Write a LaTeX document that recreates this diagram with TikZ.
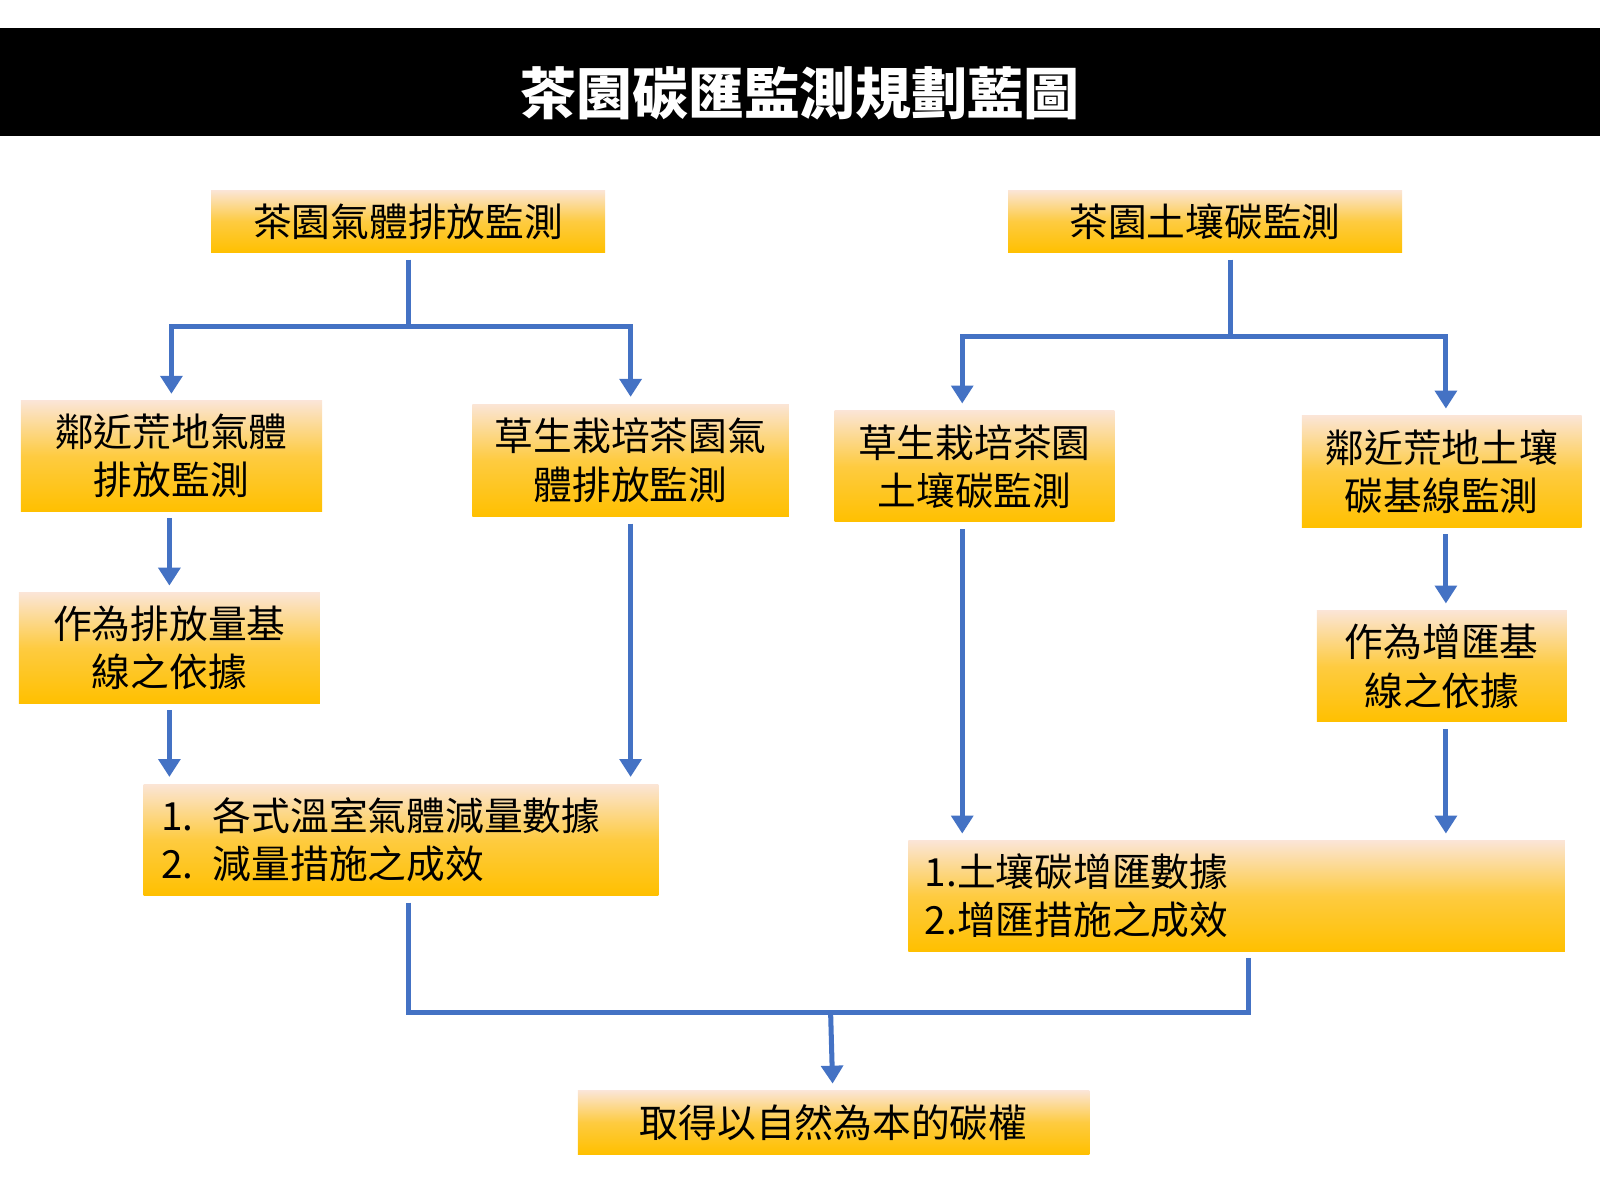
\documentclass[tikz,border=0pt]{standalone}
\usepackage{fontspec}
\setmainfont{Noto Sans CJK TC}
\usetikzlibrary{arrows.meta}

\definecolor{linkblue}{HTML}{4472C4}
\definecolor{boxgold}{HTML}{FFC000}
\definecolor{boxpeach}{HTML}{FBE5D6}

\tikzset{
  goldbox/.style={rectangle, inner sep=0pt, outer sep=2pt, align=center,
    top color=boxpeach, bottom color=boxgold, middle color=boxgold!70!boxpeach,
    font=\fontsize{10.8}{13.4}\selectfont},
  link/.style={draw=linkblue, line width=1.4pt},
  flow/.style={link, -{Triangle[length=5pt, width=6pt]}}
}

\begin{document}
\begin{tikzpicture}[x=0.01cm, y=-0.01cm]
\useasboundingbox (0,0) rectangle (1568,1176);
\fill[black] (0,27) rectangle (1568,133);
\node[text=white, font=\fontsize{15.6}{18}\selectfont\bfseries] (title) at (784,91) {茶園碳匯監測規劃藍圖};

\node[goldbox, minimum width=3.86cm, minimum height=0.61cm] (A) at (400,217) {茶園氣體排放監測};
\node[goldbox, minimum width=3.86cm, minimum height=0.61cm] (B) at (1181,217) {茶園土壤碳監測};
\node[goldbox, minimum width=2.95cm, minimum height=1.08cm] (C) at (168,447) {鄰近荒地氣體\\排放監測};
\node[goldbox, minimum width=3.10cm, minimum height=1.10cm] (D) at (618,451) {草生栽培茶園氣\\體排放監測};
\node[goldbox, minimum width=2.74cm, minimum height=1.09cm] (E) at (955,457) {草生栽培茶園\\土壤碳監測};
\node[goldbox, minimum width=2.74cm, minimum height=1.09cm] (F) at (1413,462) {鄰近荒地土壤\\碳基線監測};
\node[goldbox, minimum width=2.95cm, minimum height=1.08cm] (G) at (166,635) {作為排放量基\\線之依據};
\node[goldbox, minimum width=2.45cm, minimum height=1.09cm] (H) at (1413,653) {作為增匯基\\線之依據};
\node[goldbox, minimum height=1.09cm, text width=4.70cm, inner xsep=0.17cm, align=left] (I) at (393,823) {1. 各式溫室氣體減量數據\\2. 減量措施之成效};
\node[goldbox, minimum height=1.08cm, text width=6.11cm, inner xsep=0.16cm, align=left] (J) at (1212,878) {1.土壤碳增匯數據\\2.增匯措施之成效};
\node[goldbox, minimum width=5.01cm, minimum height=0.62cm] (K) at (817,1100) {取得以自然為本的碳權};

% junctions and drop lines
\coordinate (ja) at (400,320);
\coordinate (jb) at (1206,330);
\coordinate (jk) at (814,992);
\coordinate (xe) at (943,0);
\coordinate (xg) at (166,0);
\coordinate (xh) at (1417,0);
\coordinate (xj) at (1224,0);

\draw[link] (A) -- (ja);
\draw[flow] (ja) -| (C);
\draw[flow] (ja) -| (D);
\draw[link] (B.south-|jb) -- (jb);
\draw[flow] (jb) -| (E.north-|xe);
\draw[flow] (jb) -| (F.north-|xh);

\draw[flow] (C.south-|G) -- (G);
\draw[flow] (G.south-|xg) -- (I.north-|xg);
\draw[flow] (D) -- (D|-I.north);
\draw[flow] (E.south-|xe) -- (J.north-|xe);
\draw[flow] (F.south-|xh) -- (H.north-|xh);
\draw[flow] (H.south-|xh) -- (J.north-|xh);

\draw[link] (I.south-|ja) |- (jk) -| (J.south-|xj);
\draw[flow] (jk) -- (K);
\end{tikzpicture}
\end{document}
